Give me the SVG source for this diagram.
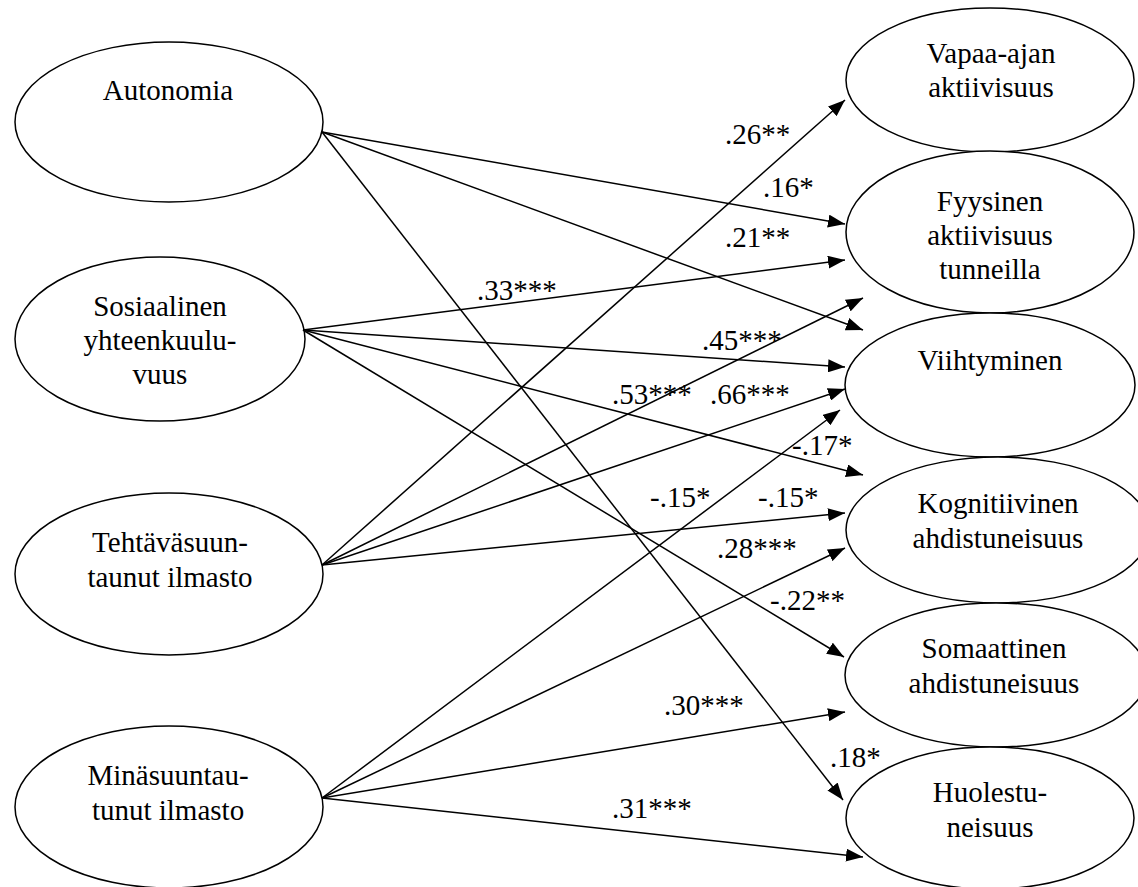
<svg xmlns="http://www.w3.org/2000/svg" width="1138" height="887" viewBox="0 0 1138 887">
  <style>
    .node ellipse { fill: #ffffff; stroke: #000000; stroke-width: 1.5; }
    .node text { text-anchor: middle; }
    text { font-family: "Liberation Serif", "Times New Roman", serif; font-size: 29px; fill: #000000; }
    .edge { stroke: #000000; stroke-width: 1.5; fill: none; marker-end: url(#arrow); }
  </style>
  <defs>
    <marker id="arrow" markerUnits="userSpaceOnUse" markerWidth="17" markerHeight="13" refX="17" refY="6.5" orient="auto">
      <path d="M0,0 L17,6.5 L0,13 Z" fill="#000000"/>
    </marker>
  </defs>
  <rect width="1138" height="887" fill="#ffffff"/>

  <!-- predictor variables -->
  <g id="autonomia" class="node">
    <ellipse cx="169" cy="122" rx="154" ry="80"/>
    <text x="168" y="100">Autonomia</text>
  </g>
  <g id="sosiaalinen" class="node">
    <ellipse cx="160" cy="339" rx="145" ry="82"/>
    <text x="160" y="316">Sosiaalinen</text>
    <text x="160" y="350">yhteenkuulu-</text>
    <text x="160" y="384">vuus</text>
  </g>
  <g id="tehtavasuuntautunut" class="node">
    <ellipse cx="169" cy="574" rx="154" ry="81"/>
    <text x="170" y="552">Tehtäväsuun-</text>
    <text x="170" y="587">taunut ilmasto</text>
  </g>
  <g id="minasuuntautunut" class="node">
    <ellipse cx="169" cy="807" rx="154" ry="81"/>
    <text x="168" y="785">Minäsuuntau-</text>
    <text x="168" y="820">tunut ilmasto</text>
  </g>

  <!-- outcome variables -->
  <g id="vapaa-ajan" class="node">
    <ellipse cx="990" cy="80" rx="144" ry="72"/>
    <text x="991" y="63">Vapaa-ajan</text>
    <text x="991" y="97">aktiivisuus</text>
  </g>
  <g id="fyysinen" class="node">
    <ellipse cx="990" cy="232" rx="144" ry="81"/>
    <text x="990" y="211">Fyysinen</text>
    <text x="990" y="245">aktiivisuus</text>
    <text x="990" y="279">tunneilla</text>
  </g>
  <g id="viihtyminen" class="node">
    <ellipse cx="990" cy="385" rx="145" ry="72"/>
    <text x="990" y="370">Viihtyminen</text>
  </g>
  <g id="kognitiivinen" class="node">
    <ellipse cx="998" cy="530" rx="152" ry="73"/>
    <text x="998" y="513">Kognitiivinen</text>
    <text x="998" y="548">ahdistuneisuus</text>
  </g>
  <g id="somaattinen" class="node">
    <ellipse cx="996" cy="675" rx="151" ry="72"/>
    <text x="994" y="658">Somaattinen</text>
    <text x="994" y="693">ahdistuneisuus</text>
  </g>
  <g id="huolestuneisuus" class="node">
    <ellipse cx="990" cy="818" rx="144" ry="71"/>
    <text x="990" y="802">Huolestu-</text>
    <text x="990" y="837">neisuus</text>
  </g>

  <!-- paths -->
  <g id="connectors">
    <line class="edge" x1="322" y1="132" x2="845" y2="224"/>
    <line class="edge" x1="322" y1="132" x2="863" y2="330"/>
    <line class="edge" x1="322" y1="132" x2="843" y2="800"/>

    <line class="edge" x1="303" y1="330" x2="845" y2="260"/>
    <line class="edge" x1="303" y1="330" x2="845" y2="367"/>
    <line class="edge" x1="303" y1="330" x2="863" y2="475"/>
    <line class="edge" x1="303" y1="330" x2="844" y2="657"/>

    <line class="edge" x1="322" y1="565" x2="845" y2="100"/>
    <line class="edge" x1="322" y1="565" x2="863" y2="298"/>
    <line class="edge" x1="322" y1="565" x2="845" y2="389"/>
    <line class="edge" x1="322" y1="565" x2="845" y2="513"/>

    <line class="edge" x1="322" y1="798" x2="840" y2="410"/>
    <line class="edge" x1="322" y1="798" x2="845" y2="548"/>
    <line class="edge" x1="322" y1="798" x2="845" y2="712"/>
    <line class="edge" x1="322" y1="798" x2="863" y2="857"/>
  </g>

  <!-- path coefficients -->
  <g id="coefficients">
    <text x="725" y="144">.26**</text>
    <text x="763" y="197">.16*</text>
    <text x="725" y="247">.21**</text>
    <text x="477" y="300">.33***</text>
    <text x="702" y="350">.45***</text>
    <text x="612" y="404">.53***</text>
    <text x="710" y="404">.66***</text>
    <text x="792" y="455">-.17*</text>
    <text x="650" y="507">-.15*</text>
    <text x="758" y="507">-.15*</text>
    <text x="717" y="558">.28***</text>
    <text x="770" y="610">-.22**</text>
    <text x="664" y="715">.30***</text>
    <text x="830" y="767">.18*</text>
    <text x="612" y="818">.31***</text>
  </g>
</svg>
